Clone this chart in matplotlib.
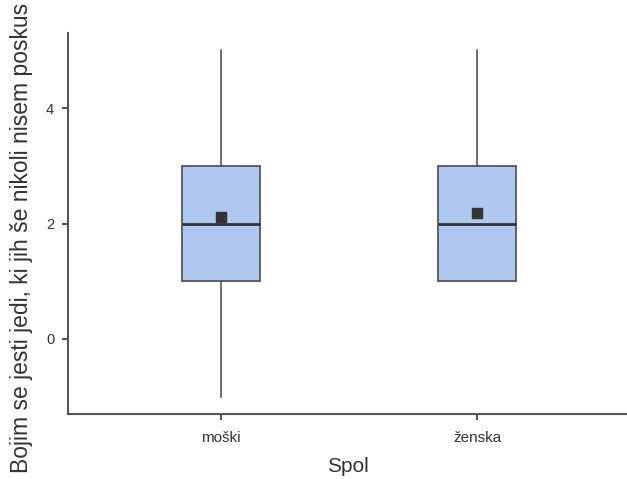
import matplotlib.pyplot as plt
import numpy as np

plt.rcParams['font.family'] = ['Liberation Sans', 'DejaVu Sans']

# summary per group
groups = ['moški', 'ženska']
whislo = [-1, 1]
q1 = [1, 1]
med = [2, 2]
q3 = [3, 3]
whishi = [5, 5]
means = [2.12, 2.19]

stats = []
for i, g in enumerate(groups):
    stats.append({'label': g, 'whislo': whislo[i], 'q1': q1[i], 'med': med[i],
                  'q3': q3[i], 'whishi': whishi[i], 'mean': means[i], 'fliers': []})

fig = plt.figure(figsize=(6.27, 4.79), dpi=100)
ax = fig.add_axes([0.1085, 0.1357, 0.8915, 0.7953])

pos = np.arange(1, len(groups) + 1)
ax.bxp(stats, positions=pos, widths=0.305, patch_artist=True, showmeans=True,
       showcaps=False, showfliers=False,
       boxprops=dict(facecolor='#aec8f0', edgecolor='#555555', linewidth=1.3),
       medianprops=dict(color='#333333', linewidth=2),
       whiskerprops=dict(color='#555555', linewidth=1.2),
       meanprops=dict(marker='s', markerfacecolor='#333333',
                      markeredgecolor='#333333', markersize=7.5))

ax.set_xlim(0.402, 2.586)
ax.set_ylim(-1.3, 5.3)
ax.set_yticks([0, 2, 4])

for s in ['top', 'right']:
    ax.spines[s].set_visible(False)
for s in ['left', 'bottom']:
    ax.spines[s].set_color('#555555')
    ax.spines[s].set_linewidth(1.5)
ax.tick_params(colors='#555555', labelcolor='#333333', length=4, width=1.5)
ax.tick_params(axis='y', labelsize=10.5, pad=6)
ax.tick_params(axis='x', labelsize=11, pad=8)

ax.set_xlabel('Spol', fontsize=15, color='#333333', labelpad=9)
fig.text(0.034, 6 / 479, 'Bojim se jesti jedi, ki jih še nikoli nisem poskus',
         rotation=90, ha='center', va='bottom', fontsize=16.5, color='#333333')

fig.savefig('out.png', dpi=100)
